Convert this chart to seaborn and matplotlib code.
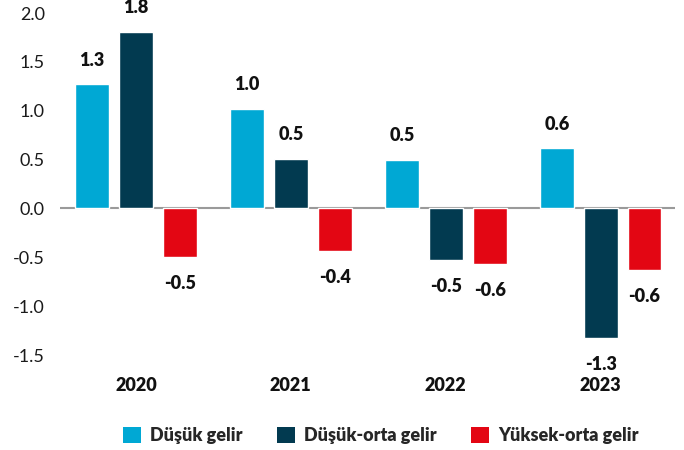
import matplotlib
matplotlib.use("Agg")
import matplotlib.pyplot as plt
import seaborn as sns
import pandas as pd
from matplotlib.patches import Patch

years = ["2020", "2021", "2022", "2023"]
groups = ["Düşük gelir", "Düşük-orta gelir", "Yüksek-orta gelir"]
low_income = [1.27, 1.02, 0.50, 0.62]
lower_middle = [1.81, 0.51, -0.53, -1.33]
upper_middle = [-0.50, -0.44, -0.57, -0.63]
yticks = [2.0, 1.5, 1.0, 0.5, 0.0, -0.5, -1.0, -1.5]

colors = ["#00A8D4", "#023A50", "#E30613"]

df = pd.DataFrame({
    "year": years * 3,
    "group": [groups[0]] * 4 + [groups[1]] * 4 + [groups[2]] * 4,
    "value": low_income + lower_middle + upper_middle,
})

sns.set_theme(style="white")
plt.rcParams["font.family"] = ["Lato", "DejaVu Sans"]

fig = plt.figure(figsize=(6.84, 4.5), dpi=100)
ax = fig.add_axes([60 / 684, 95 / 450, 615 / 684, 342 / 450])

sns.barplot(data=df, x="year", y="value", hue="group", order=years,
            hue_order=groups, palette=colors, width=0.85, gap=0.23,
            saturation=1, legend=False, ax=ax)

ax.set_xlim(-0.49, 3.48)
ax.set_ylim(-1.5, 2.0)
ax.set_yticks(yticks)
ax.set_yticklabels([f"{t:.1f}" for t in yticks], fontsize=13,
                   fontweight="normal", color="#1a1a1a")
ax.tick_params(axis="y", length=0, pad=11)
ax.tick_params(axis="x", length=0, pad=16)
for lbl in ax.get_xticklabels():
    lbl.set_fontsize(13)
    lbl.set_fontweight("heavy")
    lbl.set_color("#111111")
ax.set_xlabel("")
ax.set_ylabel("")
for s in ax.spines.values():
    s.set_visible(False)
ax.axhline(0, color="#9a9a9a", lw=1.5, zorder=0.5)

# value labels above positive bars and below negative ones
for container in ax.containers:
    for bar in container:
        x = bar.get_x() + bar.get_width() / 2
        sval = bar.get_height() if bar.get_y() == 0 else bar.get_y()
        if sval >= 0:
            ax.annotate(f"{sval:.1f}", (x, sval), xytext=(0, 11),
                        textcoords="offset points", ha="center", va="bottom",
                        fontsize=13, fontweight="heavy", color="#111111")
        else:
            ax.annotate(f"{sval:.1f}", (x, sval), xytext=(0, -13),
                        textcoords="offset points", ha="center", va="top",
                        fontsize=13, fontweight="heavy", color="#111111")

handles = [Patch(facecolor=c, edgecolor="none") for c in colors]
fig.legend(handles, groups, loc="center", bbox_to_anchor=(0.557, 0.033),
           ncol=3, frameon=False, handlelength=1.0, handleheight=1.0,
           handletextpad=0.5, columnspacing=1.9,
           prop={"size": 13, "weight": "heavy"})

fig.savefig("out.png", dpi=100)
